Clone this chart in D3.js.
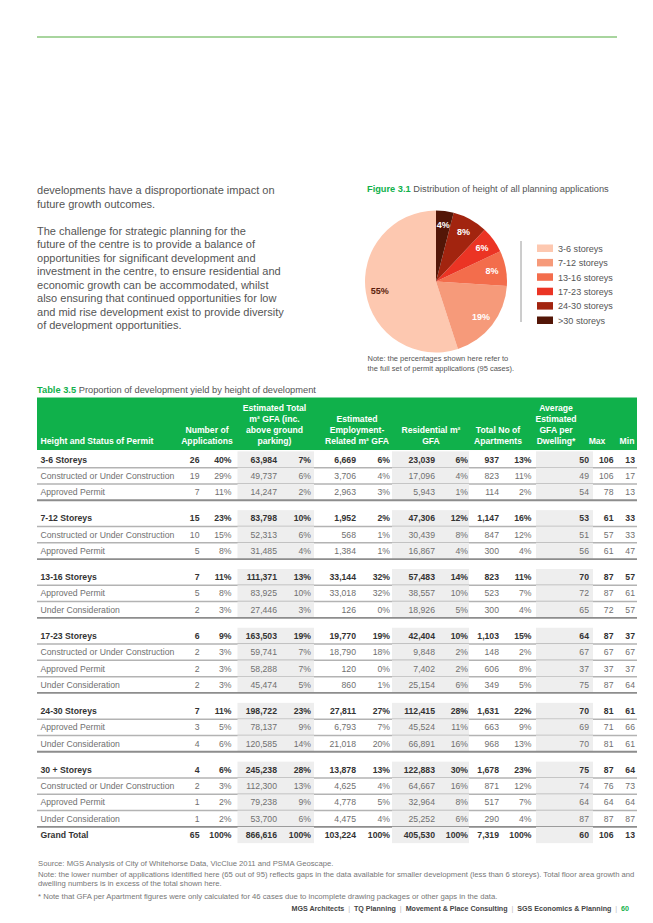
<!DOCTYPE html>
<html>
<head>
<meta charset="utf-8">
<script src="https://cdn.jsdelivr.net/npm/d3@7/dist/d3.min.js"></script>
<style>
  html, body { margin:0; padding:0; background:#fff; }
  svg { display:block; font-family:"Liberation Sans", Arial, Helvetica, sans-serif; }
</style>
</head>
<body>
<svg id="page" width="653" height="923"></svg>
<script>
// ================= DATA =================
const paragraphLines = [
  "developments have a disproportionate impact on",
  "future growth outcomes.",
  "",
  "The challenge for strategic planning for the",
  "future of the centre is to provide a balance of",
  "opportunities for significant development and",
  "investment in the centre, to ensure residential and",
  "economic growth can be accommodated, whilst",
  "also ensuring that continued opportunities for low",
  "and mid rise development exist to provide diversity",
  "of development opportunities."
];

const pieCategories = ["3-6 storeys","7-12 storeys","13-16 storeys","17-23 storeys","24-30 storeys",">30 storeys"];
const pieValues = [55, 19, 8, 6, 8, 4];
const pieColors = ["#fdc8b0","#f69a7a","#f36d4c","#eb3424","#a2240f","#531607"];

const headerLabels = [
  ["Height and Status of Permit"],
  ["Number of","Applications"],
  ["Estimated Total","m² GFA (inc.","above ground","parking)"],
  ["Estimated","Employment-","Related m² GFA"],
  ["Residential m²","GFA"],
  ["Total No of","Apartments"],
  ["Average","Estimated","GFA per","Dwelling*"],
  ["Max"],
  ["Min"]
];

const rowLabels = ["3-6 Storeys","Constructed or Under Construction","Approved Permit",
  "7-12 Storeys","Constructed or Under Construction","Approved Permit",
  "13-16 Storeys","Approved Permit","Under Consideration",
  "17-23 Storeys","Constructed or Under Construction","Approved Permit","Under Consideration",
  "24-30 Storeys","Approved Permit","Under Consideration",
  "30 + Storeys","Constructed or Under Construction","Approved Permit","Under Consideration",
  "Grand Total"];
const rowLevels = ["group","sub","sub","group","sub","sub","group","sub","sub",
  "group","sub","sub","sub","group","sub","sub","group","sub","sub","sub","total"];
const applications    = [26,19,7,15,10,5,7,5,2,6,2,2,2,7,3,4,4,2,1,1,65];
const applicationsPct = [40,29,11,23,15,8,11,8,3,9,3,3,3,11,5,6,6,3,2,2,100];
const totalGFA        = [63984,49737,14247,83798,52313,31485,111371,83925,27446,163503,59741,58288,45474,198722,78137,120585,245238,112300,79238,53700,866616];
const totalGFAPct     = [7,6,2,10,6,4,13,10,3,19,7,7,5,23,9,14,28,13,9,6,100];
const employmentGFA   = [6669,3706,2963,1952,568,1384,33144,33018,126,19770,18790,120,860,27811,6793,21018,13878,4625,4778,4475,103224];
const employmentPct   = [6,4,3,2,1,1,32,32,0,19,18,0,1,27,7,20,13,4,5,4,100];
const residentialGFA  = [23039,17096,5943,47306,30439,16867,57483,38557,18926,42404,9848,7402,25154,112415,45524,66891,122883,64667,32964,25252,405530];
const residentialPct  = [6,4,1,12,8,4,14,10,5,10,2,2,6,28,11,16,30,16,8,6,100];
const apartments      = [937,823,114,1147,847,300,823,523,300,1103,148,606,349,1631,663,968,1678,871,517,290,7319];
const apartmentsPct   = [13,11,2,16,12,4,11,7,4,15,2,8,5,22,9,13,23,12,7,4,100];
const avgGFAPerDwelling = [50,49,54,53,51,56,70,72,65,64,67,37,75,70,69,70,75,74,64,87,60];
const maxGFAPerDwelling = [106,106,78,61,57,61,87,87,72,87,67,37,87,81,71,81,87,76,64,87,106];
const minGFAPerDwelling = [13,17,13,33,33,47,57,61,57,37,67,37,64,61,66,61,64,73,64,87,13];

const footnotes = [
  "Source: MGS Analysis of City of Whitehorse Data, VicClue 2011 and PSMA Geoscape.",
  "Note: the lower number of applications identified here (65 out of 95) reflects gaps in the data available for smaller development (less than 6 storeys). Total floor area growth and",
  "dwelling numbers is in excess of the total shown here.",
  "* Note that GFA per Apartment figures were only calculated for 46 cases due to incomplete drawing packages or other gaps in the data."
];
const footerParts = ["MGS Architects","TQ Planning","Movement & Place Consulting","SGS Economics & Planning"];
const pageNumber = "60";

// ================= DRAWING =================
const svg = d3.select("#page");
const GREEN = "#10b14b";
const L = 37, RULE_R = 617, TABLE_R = 637;

function fitSize(txt, weight, target) {
  const t = svg.append("text").attr("font-size", 10).attr("font-weight", weight).text(txt);
  const w = t.node().getComputedTextLength();
  t.remove();
  return 10 * target / w;
}

// top rule
svg.append("line").attr("x1", L).attr("x2", RULE_R).attr("y1", 37).attr("y2", 37)
  .attr("stroke", "#a8d59e").attr("stroke-width", 1.8);

// ---- paragraph ----
const pSize = fitSize(paragraphLines[6], 400, 244);
const pY = d3.scaleLinear().domain([0, 1]).range([194, 207.5]);
svg.append("g").selectAll("text").data(paragraphLines).join("text")
  .attr("x", L).attr("y", (d, i) => pY(i))
  .attr("font-size", pSize).attr("fill", "#555").text(d => d);

// ---- figure title ----
const figSize = fitSize("Figure 3.1 Distribution of height of all planning applications", 400, 240);
const ft = svg.append("text").attr("x", 367).attr("y", 192).attr("font-size", figSize).attr("fill", "#555");
ft.append("tspan").attr("font-weight", 700).attr("fill", GREEN).text("Figure 3.1");
ft.append("tspan").text(" Distribution of height of all planning applications");

// ---- pie ----
const cx = 436, cy = 281.5, rad = 71;
const pie = d3.pie().sort(null).value(d => d).startAngle(2 * Math.PI).endAngle(0);
const arcs = pie(pieValues);
const arc = d3.arc().innerRadius(0).outerRadius(rad);
const labelArc = d3.arc().innerRadius(57).outerRadius(57);
const color = d3.scaleOrdinal().domain(pieCategories).range(pieColors);
const pg = svg.append("g").attr("transform", `translate(${cx},${cy})`);
pg.selectAll("path").data(arcs).join("path")
  .attr("d", arc).attr("fill", (d, i) => color(pieCategories[i]));
pg.selectAll("text").data(arcs).join("text")
  .attr("transform", d => `translate(${labelArc.centroid(d)})`)
  .attr("text-anchor", "middle").attr("dy", "0.35em")
  .attr("font-size", 9).attr("font-weight", 700)
  .attr("fill", (d, i) => i === 0 ? "#5a1d0c" : "#fff")
  .text(d => d.data + "%");

// ---- legend ----
svg.append("line").attr("x1", 521).attr("x2", 521).attr("y1", 241).attr("y2", 322)
  .attr("stroke", "#9a9a9a").attr("stroke-width", 1);
const legY = d3.scaleBand().domain(pieCategories).range([244.5, 244.5 + 14.4 * 6]);
const legSize = fitSize("13-16 storeys", 400, 55);
const lg = svg.append("g").selectAll("g").data(pieCategories).join("g")
  .attr("transform", d => `translate(537,${legY(d)})`);
lg.append("rect").attr("width", 16).attr("height", 7.5).attr("fill", d => color(d));
lg.append("text").attr("x", 21).attr("y", 7.2).attr("font-size", legSize).attr("fill", "#555").text(d => d);

// pie note
const noteSize = fitSize("Note: the percentages shown here refer to", 400, 141);
svg.append("g").selectAll("text")
  .data(["Note: the percentages shown here refer to", "the full set of permit applications (95 cases)."])
  .join("text").attr("x", 367.5).attr("y", (d, i) => 361 + i * 9.6)
  .attr("font-size", noteSize).attr("fill", "#555").text(d => d);

// ---- table title ----
const ttSize = fitSize("Table 3.5 Proportion of development yield by height of development", 400, 278);
const tt = svg.append("text").attr("x", L).attr("y", 393).attr("font-size", ttSize).attr("fill", "#555");
tt.append("tspan").attr("font-weight", 700).attr("fill", GREEN).text("Table 3.5");
tt.append("tspan").text(" Proportion of development yield by height of development");

// ---- table header ----
const hdrTop = 397.5, hdrBottom = 450;
svg.append("rect").attr("x", L).attr("y", hdrTop).attr("width", TABLE_R - L).attr("height", hdrBottom - hdrTop).attr("fill", GREEN);
const hdrSize = fitSize("Height and Status of Permit", 700, 113);
const hdrX = [40.5, 207, 274.5, 357, 431, 498, 556, 597, 627];
const hdrAnchor = ["start","middle","middle","middle","middle","middle","middle","middle","middle"];
const hdrLineY = d3.scaleLinear().domain([0, 1]).range([444, 433]); // counting lines up from bottom
const hg = svg.append("g").selectAll("text").data(headerLabels).join("text")
  .attr("x", (d, i) => hdrX[i]).attr("text-anchor", (d, i) => hdrAnchor[i])
  .attr("font-size", hdrSize).attr("font-weight", 700).attr("fill", "#fff");
hg.each(function(lines) {
  d3.select(this).selectAll("tspan").data(lines).join("tspan")
    .attr("x", d3.select(this).attr("x"))
    .attr("y", (d, j) => hdrLineY(lines.length - 1 - j))
    .text(d => d);
});

// ---- table body ----
const fmt = d3.format(",");
const pct = v => v + "%";
const colKeys = ["n","nPct","gfa","gfaPct","emp","empPct","res","resPct","apt","aptPct","avg","max","min"];
const colRight = d3.scaleOrdinal().domain(colKeys)
  .range([199.5, 231.5, 277, 311, 356, 390, 435, 468, 499, 531.5, 589, 613.5, 635]);
const bands = [[237.5, 314], [392, 469], [536, 593]];

const rowH = 16.3, gap = 9.9;
const rowY = d3.scaleLinear().domain([0, 1]).range([459.5, 459.5 + rowH]);
let gapCount = -1;
const rows = rowLabels.map((label, i) => {
  if (rowLevels[i] === "group") gapCount++;
  return {
    label, level: rowLevels[i], y: rowY(i) + gapCount * gap,
    cells: [fmt(applications[i]), pct(applicationsPct[i]), fmt(totalGFA[i]), pct(totalGFAPct[i]),
            fmt(employmentGFA[i]), pct(employmentPct[i]), fmt(residentialGFA[i]), pct(residentialPct[i]),
            fmt(apartments[i]), pct(apartmentsPct[i]), fmt(avgGFAPerDwelling[i]), fmt(maxGFAPerDwelling[i]), fmt(minGFAPerDwelling[i])],
    endOfGroup: i + 1 < rowLevels.length && rowLevels[i + 1] !== "sub"
  };
});

const bodySize = fitSize("Constructed or Under Construction", 400, 134);
const rg = svg.append("g").selectAll("g").data(rows).join("g")
  .attr("transform", d => `translate(0,${d.y})`);
rg.selectAll("rect.band").data(bands).join("rect").attr("class", "band")
  .attr("x", b => b[0]).attr("width", b => b[1] - b[0])
  .attr("y", -rowH / 2).attr("height", rowH).attr("fill", "#eeeeee");
rg.filter(d => d.level !== "total").append("line")
  .attr("x1", L).attr("x2", TABLE_R).attr("y1", rowH / 2).attr("y2", rowH / 2)
  .attr("stroke", d => d.endOfGroup ? "#8d8d8d" : "#b3b3b3")
  .attr("stroke-width", d => d.endOfGroup ? 1.8 : 1.5);
rg.append("text").attr("x", 40.5).attr("y", 3)
  .attr("font-size", bodySize)
  .attr("font-weight", d => d.level === "sub" ? 400 : 700)
  .attr("fill", d => d.level === "sub" ? "#707070" : "#333")
  .text(d => d.label);
rg.each(function(row) {
  d3.select(this).selectAll("text.v").data(row.cells).join("text").attr("class", "v")
    .attr("x", (c, k) => colRight(colKeys[k])).attr("y", 3)
    .attr("text-anchor", "end").attr("font-size", bodySize)
    .attr("font-weight", row.level === "sub" ? 400 : 700)
    .attr("fill", row.level === "sub" ? "#707070" : "#333")
    .text(c => c);
});

// ---- footnotes ----
const fnSize = fitSize(footnotes[1], 400, 598);
const fnY = [865.5, 876.5, 886, 898.5];
svg.append("g").selectAll("text").data(footnotes).join("text")
  .attr("x", L + 1).attr("y", (d, i) => fnY[i])
  .attr("font-size", fnSize).attr("fill", "#777").text(d => d);

// ---- footer ----
const foot = svg.append("text").attr("x", 629).attr("y", 911).attr("text-anchor", "end")
  .attr("font-size", 7).attr("font-weight", 700).attr("fill", "#444")
  .attr("xml:space", "preserve").style("white-space", "pre");
footerParts.forEach((p, i) => {
  if (i > 0) foot.append("tspan").attr("fill", "#bbb").attr("font-weight", 400).text("  |  ");
  foot.append("tspan").text(p);
});
foot.append("tspan").attr("fill", "#bbb").attr("font-weight", 400).text("  |  ");
foot.append("tspan").attr("fill", GREEN).text(pageNumber);
const footW = foot.node().getComputedTextLength();
foot.attr("font-size", 7 * 338 / footW);
</script>
</body>
</html>
